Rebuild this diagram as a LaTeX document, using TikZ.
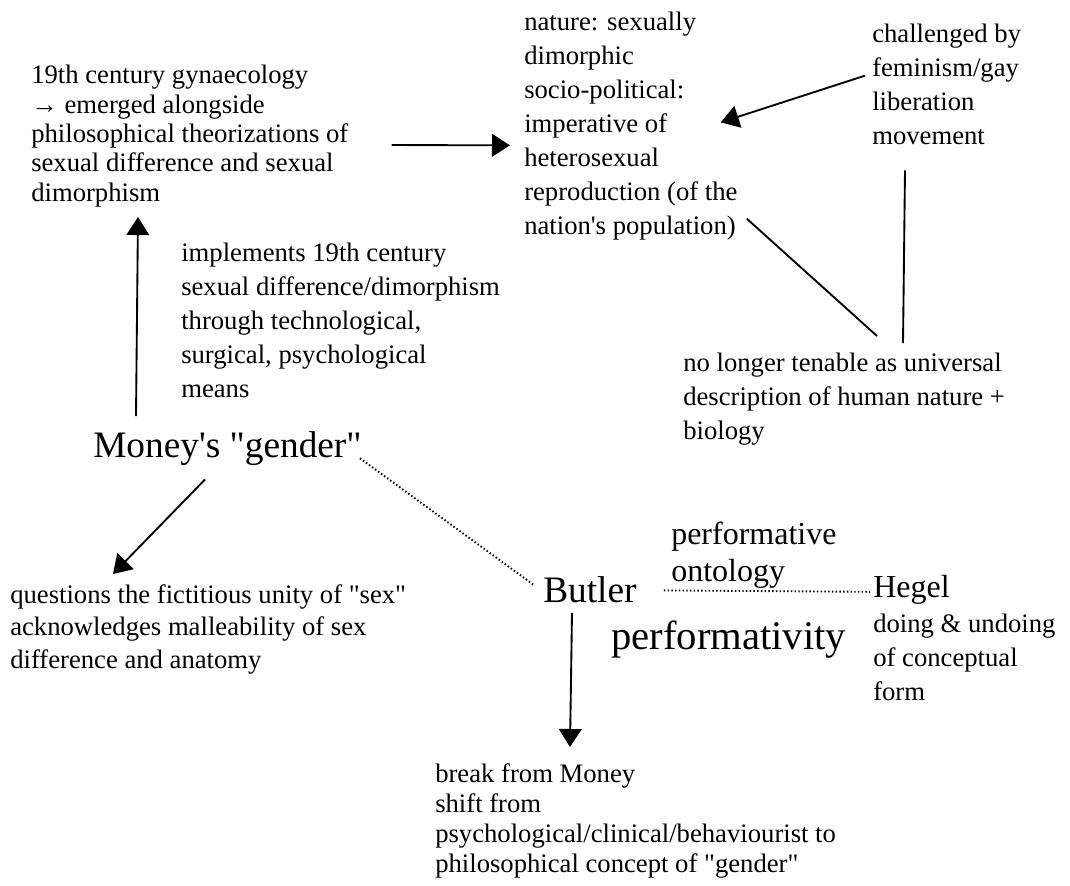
\documentclass[tikz,border=0pt]{standalone}
\usepackage{fontspec}
\setmainfont{Liberation Serif}[Ligatures=TeXOff]
\usetikzlibrary{arrows.meta,positioning}
\newcommand\bodyfont[1]{\fontsize{20}{#1}\selectfont}
\begin{document}
\begin{tikzpicture}[x=0.75pt,y=-0.75pt,>={Triangle[length=13.5pt,width=17pt]},
    txt/.style={anchor=north west,inner sep=0pt,align=left,font=\bodyfont{23.3}},
    wide/.style={font=\bodyfont{25.5}},
    big/.style={font=\fontsize{28}{33}\selectfont},
    mid/.style={font=\fontsize{24}{27.8}\selectfont},
    link/.style={line width=1.4pt},
    dots/.style={line width=1.4pt,dash pattern=on 1.1pt off 1.7pt}]
    \useasboundingbox (0,0) rectangle (1070,885);
    % upper half
    \node[txt,font=\bodyfont{22}] (gyn) at (31,65) {19th century gynaecology\\→ emerged alongside\\philosophical theorizations of\\sexual difference and sexual\\dimorphism};
    \node[txt,wide] (nature) at (524,12) {nature: sexually\\dimorphic\\socio-political:\\imperative of\\heterosexual\\reproduction (of the\\nation's population)};
    \node[txt,wide] (chall) at (872,24) {challenged by\\feminism/gay\\liberation\\movement};
    \node[txt,wide] (tenable) at (683,353) {no longer tenable as universal\\description of human nature +\\biology};
    \node[txt,wide] (impl) at (181,243) {implements 19th century\\sexual difference/dimorphism\\through technological,\\surgical, psychological\\means};
    % lower half
    \node[txt,big] (money) at (93,431) {Money's "gender"};
    \node[txt,font=\bodyfont{24.5}] (quest) at (10,584) {questions the fictitious unity of "sex"\\acknowledges malleability of sex\\difference and anatomy};
    \node[txt,big] (butler) at (543,576) {Butler};
    \node[txt,mid] (perf) at (671,522) {performative\\ontology};
    \node[txt,mid] (hegel) at (873,575) {Hegel};
    \node[txt,wide] (hegeltxt) at (873,614) {doing \& undoing\\of conceptual\\form};
    \node[txt,font=\fontsize{30.5}{36}\selectfont] (perfy) at (611,621) {performativity};
    \node[txt,font=\bodyfont{22.5}] (break) at (435,763) {break from Money\\shift from\\psychological/clinical/behaviourist to\\philosophical concept of "gender"};

    \draw[->,link] ([shift={(43,9)}]gyn.east) -- ([shift={(-14,19)}]nature.west);
    \draw[->,link] ([shift={(-7,-9)}]chall.west) -- ([shift={(-17,-4)}]nature.east);
    \draw[link] ([shift={(9,-22)}]nature.south east) -- ([shift={(194,-17)}]tenable.north west);
    \draw[link] ([shift={(33,25)}]chall.south west) -- ([shift={(220,-10)}]tenable.north west);
    \draw[->,link] ([shift={(43,-15)}]money.north west) -- ([shift={(107,10)}]gyn.south west);
    \draw[->,link] ([shift={(112,14)}]money.south west) -- ([shift={(103,-10)}]quest.north west);
    \draw[dots] ([shift={(-2,10)}]money.east) -- ([shift={(-10,-5)}]butler.west);
    \draw[->,link] ([shift={(29,10)}]butler.south west) -- ([shift={(135,-16)}]break.north west);
    \draw[dots] ([shift={(27,1)}]butler.east) -- ([shift={(-3,2)}]hegel.west);
\end{tikzpicture}
\end{document}
